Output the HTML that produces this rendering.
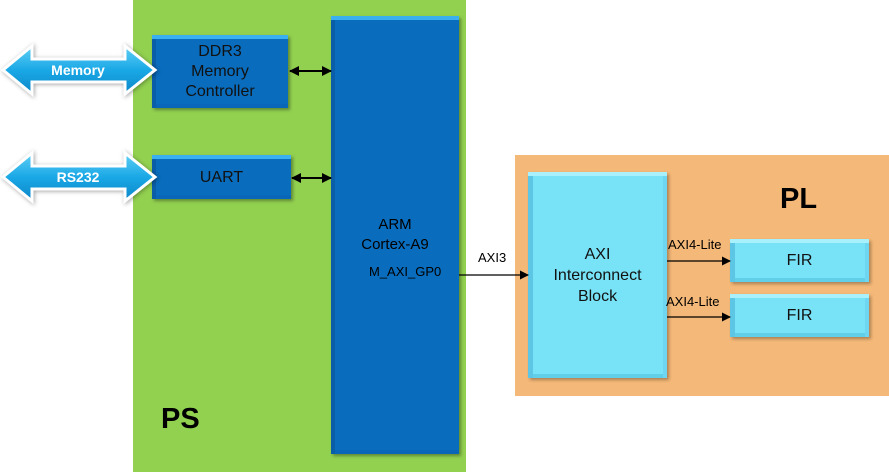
<!DOCTYPE html>
<html><head><style>
body{margin:0;width:889px;height:472px;position:relative;background:#fff;font-family:"Liberation Sans",sans-serif;overflow:hidden}
.a{position:absolute}
.blue{background:#0a6cbc;box-shadow:inset 0 4px 0 #3ab0f0,inset 4px 0 0 #0a5ea8,inset 0 -4px 0 #0a66b8,2px 2px 3px rgba(0,0,0,.35);color:#111;text-align:center;font-size:16px}
.cyan{background:#78e3f7;box-shadow:inset 0 4px 0 #a8f0fc,inset 5px 0 0 #5cc6e4,inset -4px 0 0 #6ed6f0,inset 0 -4px 0 #62cfe9,2px 2px 3px rgba(0,0,0,.3);color:#111;text-align:center;font-size:16px}
.t{position:absolute;font-size:13px;color:#000}
</style></head><body>
<div class="a" style="left:133px;top:0;width:333px;height:472px;background:#92d050"></div>
<div class="a" style="left:515px;top:155px;width:374px;height:241px;background:#f4b878"></div>

<div class="a blue" style="left:152px;top:35px;width:136px;height:73px;line-height:20px;display:flex;align-items:center;justify-content:center">DDR3<br>Memory<br>Controller</div>
<div class="a blue" style="left:152px;top:155px;width:139px;height:44px;line-height:46px">UART</div>
<div class="a blue" style="left:331px;top:16px;width:128px;height:438px"></div>
<div class="t" style="left:331px;width:128px;top:215px;text-align:center;font-size:15px;line-height:20px">ARM<br>Cortex-A9</div>
<div class="t" style="left:369px;top:264px;font-size:13px">M_AXI_GP0</div>

<div class="a cyan" style="left:528px;top:172px;width:139px;height:206px;display:flex;align-items:center;justify-content:center;line-height:21px">AXI<br>Interconnect<br>Block</div>
<div class="a cyan" style="left:730px;top:239px;width:139px;height:43px;line-height:44px">FIR</div>
<div class="a cyan" style="left:730px;top:294px;width:139px;height:43px;line-height:44px">FIR</div>

<div class="t" style="left:478px;top:250px">AXI3</div>
<div class="t" style="left:668px;top:237px">AXI4-Lite</div>
<div class="t" style="left:666px;top:294px">AXI4-Lite</div>
<div class="a" style="left:780px;top:183px;font-size:29px;font-weight:bold">PL</div>
<div class="a" style="left:161px;top:403px;font-size:29px;font-weight:bold">PS</div>

<svg class="a" style="left:0;top:0" width="889" height="472">
<defs>
<linearGradient id="g" x1="0" y1="0" x2="0" y2="1"><stop offset="0" stop-color="#5fd0f5"/><stop offset=".5" stop-color="#1aa8e6"/><stop offset="1" stop-color="#0c86c8"/></linearGradient>
<marker id="m" markerWidth="10" markerHeight="10" refX="9" refY="5" orient="auto" markerUnits="userSpaceOnUse"><path d="M0,0 L10,5 L0,10z" fill="#000"/></marker>
<marker id="ms" markerWidth="10" markerHeight="10" refX="1" refY="5" orient="auto" markerUnits="userSpaceOnUse"><path d="M10,0 L0,5 L10,10z" fill="#000"/></marker>
<marker id="m2" markerWidth="9" markerHeight="9" refX="8" refY="4.5" orient="auto" markerUnits="userSpaceOnUse"><path d="M0,0 L9,4.5 L0,9z" fill="#000"/></marker>
</defs>
<g stroke="#fff" stroke-width="3" fill="url(#g)" stroke-linejoin="miter" style="filter:drop-shadow(1px 1px 2px rgba(0,0,0,.35))">
<path d="M3,70 L32,46 L32,59 L125,59 L125,46 L155,70 L125,94 L125,82 L32,82 L32,94Z"/>
<path d="M3,177 L32,153 L32,166 L125,166 L125,153 L155,177 L125,201 L125,189 L32,189 L32,201Z"/>
</g>
<text x="78" y="75" text-anchor="middle" fill="#fff" font-family="Liberation Sans" font-weight="bold" font-size="14">Memory</text>
<text x="78" y="182" text-anchor="middle" fill="#fff" font-family="Liberation Sans" font-weight="bold" font-size="14">RS232</text>
<g stroke="#000" stroke-width="2">
<line x1="290" y1="71" x2="331" y2="71" marker-start="url(#ms)" marker-end="url(#m)"/>
<line x1="292" y1="178" x2="331" y2="178" marker-start="url(#ms)" marker-end="url(#m)"/>
</g>
<g stroke="#000" stroke-width="1.2">
<line x1="459" y1="275" x2="528" y2="275" marker-end="url(#m2)"/>
<line x1="667" y1="261" x2="730" y2="261" marker-end="url(#m2)"/>
<line x1="667" y1="317" x2="730" y2="317" marker-end="url(#m2)"/>
</g>
</svg>
</body></html>
